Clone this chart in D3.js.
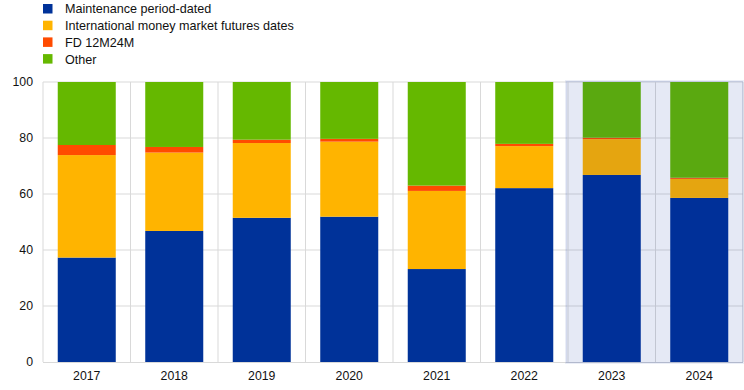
<!DOCTYPE html>
<html>
<head>
<meta charset="utf-8">
<script src="https://cdn.jsdelivr.net/npm/d3@7"></script>
<style>
  body { margin: 0; background: #fff; }
  svg { display: block; font-family: Arial, "Liberation Sans", sans-serif; }
</style>
</head>
<body>
<div id="chart"></div>
<script>
const years = ["2017", "2018", "2019", "2020", "2021", "2022", "2023", "2024"];
const maintenance = [37.3, 46.8, 51.5, 51.9, 33.2, 62.1, 66.8, 58.6];
const imm = [36.6, 28.0, 26.7, 26.8, 27.9, 15.0, 12.8, 6.8];
const fd = [3.6, 2.0, 1.2, 1.0, 1.9, 0.8, 0.5, 0.4];
const other = [22.5, 23.2, 20.6, 20.3, 37.0, 22.1, 19.9, 34.2];
const yTicks = [0, 20, 40, 60, 80, 100];
const highlighted = ["2023", "2024"];

const seriesNames = ["Maintenance period-dated", "International money market futures dates", "FD 12M24M", "Other"];
const seriesKeys = ["maintenance", "imm", "fd", "other"];
const colors = ["#003299", "#ffb400", "#ff4b00", "#65b800"];

const W = 744, H = 390;
const MARGIN = {TOP: 82, BOTTOM: 28, LEFT: 43, RIGHT: 1};
const WIDTH = W - MARGIN.LEFT - MARGIN.RIGHT;
const HEIGHT = H - MARGIN.TOP - MARGIN.BOTTOM;

const table = years.map((y, i) => ({
  year: y, maintenance: maintenance[i], imm: imm[i], fd: fd[i], other: other[i]
}));

const svg = d3.select("#chart").append("svg")
  .attr("width", W).attr("height", H);

const g = svg.append("g")
  .attr("transform", `translate(${MARGIN.LEFT},${MARGIN.TOP})`);

const x = d3.scaleBand().domain(years).range([0, WIDTH]).paddingInner(0.337).paddingOuter(0.1685);
const y = d3.scaleLinear().domain([0, 100]).range([HEIGHT, 0]);

// grid
g.append("g").selectAll("line.h")
  .data(yTicks.filter(t => t > 0))
  .enter().append("line")
  .attr("x1", 0).attr("x2", WIDTH)
  .attr("y1", d => y(d)).attr("y2", d => y(d))
  .attr("stroke", "#d9d9d9").attr("stroke-width", 1);

g.append("g").selectAll("line.v")
  .data(d3.range(0, years.length + 1))
  .enter().append("line")
  .attr("x1", i => i * x.step()).attr("x2", i => i * x.step())
  .attr("y1", 0).attr("y2", HEIGHT)
  .attr("stroke", "#d9d9d9").attr("stroke-width", 1);

// bars
const stack = d3.stack().keys(seriesKeys)(table);
g.append("g").selectAll("g")
  .data(stack)
  .enter().append("g")
  .attr("fill", (d, i) => colors[i])
  .selectAll("rect")
  .data(d => d)
  .enter().append("rect")
  .attr("x", d => x(d.data.year))
  .attr("width", x.bandwidth())
  .attr("y", d => y(d[1]))
  .attr("height", d => y(d[0]) - y(d[1]));

// x axis line
g.append("line")
  .attr("x1", 0).attr("x2", WIDTH)
  .attr("y1", HEIGHT + 0.5).attr("y2", HEIGHT + 0.5)
  .attr("stroke", "#d9d9d9");

// highlighted projection area
const hx0 = x(highlighted[0]) - (x.step() - x.bandwidth()) / 2 - 2;
g.append("rect")
  .attr("x", hx0)
  .attr("y", y(100) - 1)
  .attr("width", WIDTH - hx0)
  .attr("height", HEIGHT + 2)
  .attr("fill", "rgba(0,35,155,0.1)")
  .attr("stroke", "rgba(0,35,155,0.08)")
  .attr("stroke-width", 2);

// y labels
const yAxis = d3.axisLeft(y).tickValues(yTicks).tickSize(0).tickPadding(10);
g.append("g").call(yAxis)
  .call(s => s.select(".domain").remove())
  .selectAll("text")
  .attr("font-size", 12.3).attr("fill", "#111")
  .attr("font-family", "Arial, 'Liberation Sans', sans-serif");

// x labels
const xAxis = d3.axisBottom(x).tickSize(0).tickPadding(9);
g.append("g").attr("transform", `translate(0,${HEIGHT})`).call(xAxis)
  .call(s => s.select(".domain").remove())
  .selectAll("text")
  .attr("font-size", 12.3).attr("fill", "#111")
  .attr("font-family", "Arial, 'Liberation Sans', sans-serif");

// legend
const legend = svg.append("g").attr("transform", "translate(43,4)");
const item = legend.selectAll("g")
  .data(seriesNames)
  .enter().append("g")
  .attr("transform", (d, i) => `translate(0,${i * 16.7})`);
item.append("rect")
  .attr("width", 9.5).attr("height", 9.5)
  .attr("fill", (d, i) => colors[i]);
item.append("text")
  .attr("x", 22).attr("y", 5)
  .attr("dy", "0.35em")
  .attr("font-size", 12.6).attr("fill", "#111")
  .text(d => d);
</script>
</body>
</html>
